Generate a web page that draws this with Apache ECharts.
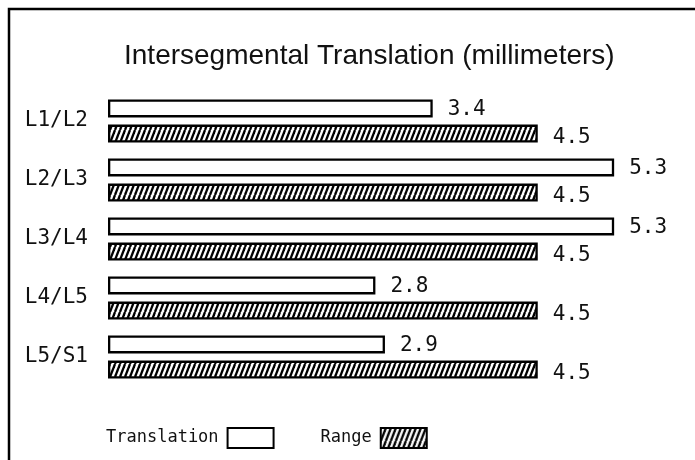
<!DOCTYPE html>
<html>
<head>
<meta charset="utf-8">
<script src="https://cdn.jsdelivr.net/npm/echarts@6/dist/echarts.min.js"></script>
<style>html,body{margin:0;padding:0;background:#fff}#c{width:695px;height:460px}</style>
</head>
<body>
<div id="c"></div>
<script>
var categories = ['L1/L2', 'L2/L3', 'L3/L4', 'L4/L5', 'L5/S1'];
var translation = [3.4, 5.3, 5.3, 2.8, 2.9];
var range = [4.5, 4.5, 4.5, 4.5, 4.5];
var titleText = 'Intersegmental Translation (millimeters)';

function hatch() {
  var w = 5, h = 13;
  var cv = document.createElement('canvas');
  cv.width = w; cv.height = h;
  var ctx = cv.getContext('2d');
  ctx.fillStyle = '#fff';
  ctx.fillRect(0, 0, w, h);
  ctx.strokeStyle = '#000';
  ctx.lineWidth = 2.3;
  for (var k = -1; k <= 1; k++) {
    ctx.beginPath();
    ctx.moveTo(k * w, h);
    ctx.lineTo((k + 1) * w, 0);
    ctx.stroke();
  }
  return { image: cv, repeat: 'repeat' };
}
var pat = hatch();
var mono = 'DejaVu Sans Mono';

var chart = echarts.init(document.getElementById('c'));
chart.setOption({
  animation: false,
  backgroundColor: '#fff',
  title: {
    text: titleText,
    left: 119, top: 37,
    textStyle: { fontFamily: 'Liberation Sans', fontSize: 28, fontWeight: 'normal', color: '#111' }
  },
  legend: {
    left: 101, top: 422,
    align: 'right',
    itemWidth: 46, itemHeight: 20, itemGap: 46,
    icon: 'rect',
    textStyle: { fontFamily: mono, fontSize: 17, color: '#111', padding: [0, 4, 0, 0] },
    data: ['Translation', 'Range']
  },
  grid: { left: 108, top: 91.5, width: 573, height: 295 },
  xAxis: { type: 'value', min: 0, max: 6, show: false },
  yAxis: {
    type: 'category', data: categories, inverse: true,
    axisLine: { show: false }, axisTick: { show: false },
    axisLabel: { margin: 20, fontFamily: mono, fontSize: 21, color: '#111' }
  },
  series: [
    {
      name: 'Translation', type: 'bar', data: translation,
      barWidth: 18, barGap: '40%',
      itemStyle: { color: '#fff', borderColor: '#000', borderWidth: 2.3 },
      label: { show: true, position: 'right', distance: 15, fontFamily: mono, fontSize: 21, color: '#111', offset: [0, 1] }
    },
    {
      name: 'Range', type: 'bar', data: range,
      barWidth: 18,
      itemStyle: { color: pat, borderColor: '#000', borderWidth: 2.3 },
      label: { show: true, position: 'right', distance: 15, fontFamily: mono, fontSize: 21, color: '#111', offset: [0, 4] }
    }
  ],
  graphic: [
    { type: 'polyline', shape: { points: [[9, 460], [9, 9], [695, 9]] }, style: { stroke: '#000', lineWidth: 2.5, fill: null } }
  ]
});
</script>
</body>
</html>
